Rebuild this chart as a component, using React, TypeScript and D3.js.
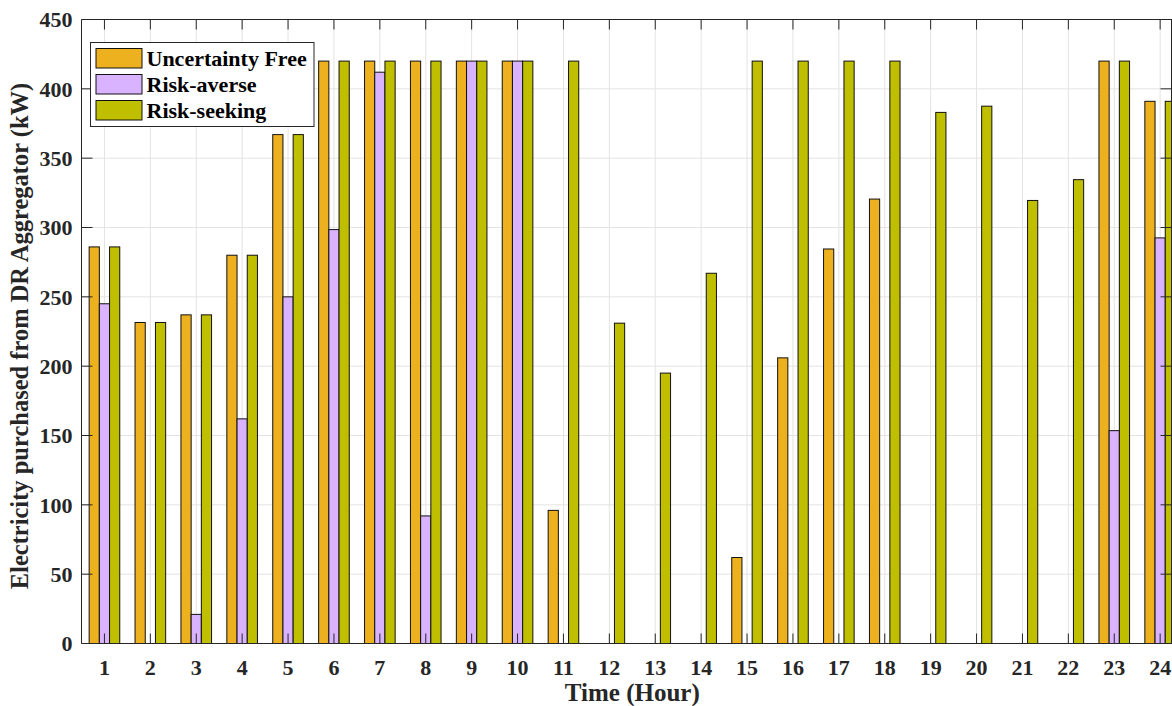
import React from "react";
import * as d3 from "d3";

// Hourly purchases from the DR aggregator (kW) under three strategies
const hours: number[] = d3.range(1, 25);
const uncertaintyFree: number[] = [286, 231.5, 237, 280, 367, 420, 420, 420, 420, 420, 96, 0, 0, 0, 62, 206, 284.5, 320.5, 0, 0, 0, 0, 420, 391];
const riskAverse: number[] = [245, 0, 21, 162, 250, 298.5, 412, 92, 420, 420, 0, 0, 0, 0, 0, 0, 0, 0, 0, 0, 0, 0, 153.5, 292.5];
const riskSeeking: number[] = [286, 231.5, 237, 280, 367, 420, 420, 420, 420, 420, 420, 231, 195, 267, 420, 420, 420, 420, 383, 387.5, 319.5, 334.5, 420, 391];
const yTicks: number[] = [0, 50, 100, 150, 200, 250, 300, 350, 400, 450];

const seriesNames = ["Uncertainty Free", "Risk-averse", "Risk-seeking"];
const seriesColors = ["#EDB120", "#D9B3FF", "#BFBF00"];

const W = 1172;
const H = 706;
const left = 81.5;
const top = 19.5;
const bottom = 643.5;
const unit = 45.9;
const fullRight = left + 24 * unit;
const clipRight = 1171.5;
const axisColor = "#262626";
const font = "'Liberation Serif', 'Times New Roman', serif";

export default function App() {
  const x = d3.scaleLinear().domain([0.5, 24.5]).range([left, fullRight]);
  const y = d3.scaleLinear().domain([0, 450]).range([bottom, top]);
  const groupWidth = Math.min(0.8, 3 / (3 + 1.5));
  const barW = x(groupWidth / 3) - x(0);
  const series = [uncertaintyFree, riskAverse, riskSeeking];

  return (
    <svg width={W} height={H} style={{ position: "absolute", left: 0, top: 0, background: "#fff" }}>
      <defs>
        <clipPath id="plotClip">
          <rect x={left} y={top - 1} width={clipRight - left + 1} height={bottom - top + 2} />
        </clipPath>
      </defs>
      <rect x={0} y={0} width={W} height={H} fill="#fff" />
      <g clipPath="url(#plotClip)">
        {/* grid */}
        {hours.map((h) => (
          <line key={"gx" + h} x1={x(h)} x2={x(h)} y1={top} y2={bottom} stroke="#e3e3e3" strokeWidth={1} />
        ))}
        {yTicks.map((t) => (
          <line key={"gy" + t} x1={left} x2={clipRight} y1={y(t)} y2={y(t)} stroke="#e3e3e3" strokeWidth={1} />
        ))}
        {/* bars */}
        {series.map((vals, si) =>
          vals.map((v, i) => {
            const cx = x(hours[i]) + (si - 1) * barW;
            const x0 = cx - barW / 2;
            if (v <= 0) {
              return (
                <line key={`b${si}-${i}`} x1={x0} x2={x0 + barW} y1={y(0)} y2={y(0)} stroke="#555" strokeWidth={1} />
              );
            }
            return (
              <rect
                key={`b${si}-${i}`}
                x={x0}
                y={y(v)}
                width={barW}
                height={y(0) - y(v)}
                fill={seriesColors[si]}
                stroke="#111"
                strokeWidth={1}
              />
            );
          })
        )}
        {/* tick marks */}
        {hours.map((h) => (
          <g key={"tx" + h}>
            <line x1={x(h)} x2={x(h)} y1={bottom} y2={bottom - 10} stroke={axisColor} strokeWidth={1} />
            <line x1={x(h)} x2={x(h)} y1={top} y2={top + 10} stroke={axisColor} strokeWidth={1} />
          </g>
        ))}
        {yTicks.map((t) => (
          <g key={"ty" + t}>
            <line x1={left} x2={left + 11} y1={y(t)} y2={y(t)} stroke={axisColor} strokeWidth={1} />
            <line x1={clipRight} x2={clipRight - 11} y1={y(t)} y2={y(t)} stroke={axisColor} strokeWidth={1} />
          </g>
        ))}
      </g>
      {/* axes box */}
      <line x1={left} x2={left} y1={top} y2={bottom} stroke={axisColor} strokeWidth={1} />
      <line x1={clipRight} x2={clipRight} y1={top} y2={bottom} stroke={axisColor} strokeWidth={1} />
      <line x1={left} x2={W} y1={top} y2={top} stroke={axisColor} strokeWidth={1} />
      <line x1={left} x2={W} y1={bottom} y2={bottom} stroke={axisColor} strokeWidth={1} />

      {/* tick labels */}
      {yTicks.map((t) => (
        <text
          key={"ly" + t}
          x={left - 9}
          y={y(t)}
          dy="0.35em"
          textAnchor="end"
          fontFamily={font}
          fontWeight="bold"
          fontSize={22}
          fill={axisColor}
        >
          {t}
        </text>
      ))}
      {hours.map((h) => (
        <text
          key={"lx" + h}
          x={x(h)}
          y={675}
          textAnchor="middle"
          fontFamily={font}
          fontWeight="bold"
          fontSize={22}
          fill={axisColor}
        >
          {h}
        </text>
      ))}

      {/* axis titles */}
      <text
        x={(left + fullRight) / 2}
        y={701}
        textAnchor="middle"
        fontFamily={font}
        fontWeight="bold"
        fontSize={25}
        fill={axisColor}
      >
        Time (Hour)
      </text>
      <text
        transform={`translate(28, 336) rotate(-90)`}
        textAnchor="middle"
        fontFamily={font}
        fontWeight="bold"
        fontSize={24.5}
        fill={axisColor}
      >
        Electricity purchased from DR Aggregator (kW)
      </text>

      {/* legend */}
      <g>
        <rect x={90.5} y={42.5} width={223.5} height={84} fill="#fff" stroke={axisColor} strokeWidth={1} />
        {seriesNames.map((name, i) => (
          <g key={name} transform={`translate(0, ${i * 26})`}>
            <rect x={96} y={48.5} width={46} height={19.5} fill={seriesColors[i]} stroke="#111" strokeWidth={1} />
            <text x={146.5} y={65.5} fontFamily={font} fontWeight="bold" fontSize={22} fill="#000">
              {name}
            </text>
          </g>
        ))}
      </g>
    </svg>
  );
}
